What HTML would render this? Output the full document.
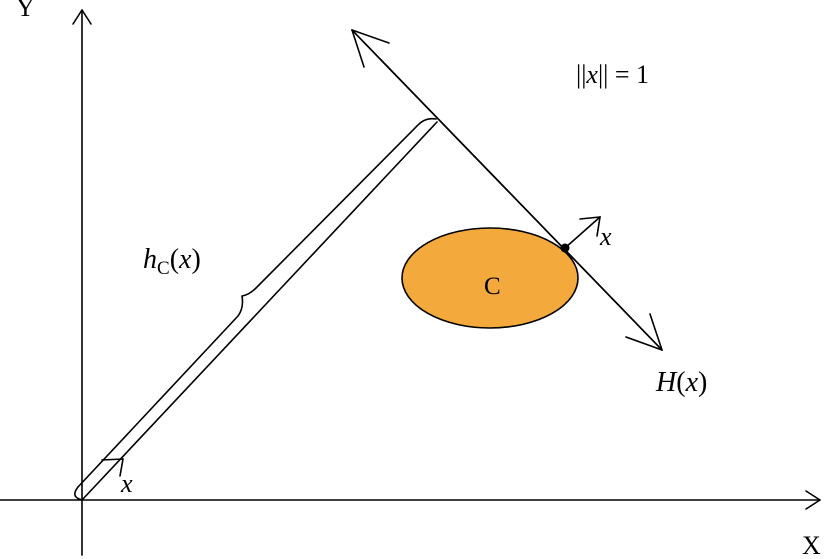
<!DOCTYPE html>
<html><head><meta charset="utf-8"><style>
body{margin:0;background:#fff}
svg{display:block}
text{font-family:"Liberation Serif",serif;fill:#000}
.i{font-style:italic}
</style></head><body>
<svg width="828" height="559" viewBox="0 0 828 559" xmlns="http://www.w3.org/2000/svg">
<g stroke="#000" stroke-width="1.6" fill="none" stroke-linecap="round" stroke-linejoin="round">
<line x1="82" y1="555" x2="82" y2="10"/>
<polyline points="73,24 82,10 91,24"/>
<line x1="0" y1="500" x2="820" y2="500"/>
<polyline points="806,491 820,500 806,509"/>
<line x1="352" y1="30" x2="662" y2="350"/>
<polyline points="389,43 352,30 364,67"/>
<polyline points="626,337 662,350 650,314"/>
<line x1="82" y1="500" x2="437" y2="122"/>
<path d="M78,487 L238,316 Q244,308 242,296 Q249,295 256,288 L417,126 Q425,117 436,119"/>
<path d="M78,487 Q70,497 82,500"/>
<line x1="102" y1="460" x2="123" y2="459"/>
<line x1="123" y1="459" x2="120" y2="476"/>
</g>
<ellipse cx="490" cy="278" rx="88" ry="50" fill="#f3a93c" stroke="#000" stroke-width="1.6"/>
<g stroke="#000" stroke-width="1.6" fill="none" stroke-linecap="round">
<line x1="352" y1="30" x2="662" y2="350"/>
<line x1="565" y1="248" x2="600" y2="217"/>
<polyline points="580,219 600,217 597,236"/>
</g>
<circle cx="565" cy="248" r="4.5" fill="#000"/>
<text x="484" y="294" font-size="25">C</text>
<text class="i" x="600" y="245" font-size="26">x</text>
<text class="i" x="121" y="492" font-size="26">x</text>
<text x="143" y="268" font-size="28"><tspan class="i">h</tspan><tspan font-size="19" dy="6">C</tspan><tspan dy="-6">(</tspan><tspan class="i">x</tspan>)</text>
<text x="656" y="391" font-size="28"><tspan class="i">H</tspan>(<tspan class="i">x</tspan>)</text>
<text x="576" y="83" font-size="26">||<tspan class="i">x</tspan>|| = 1</text>
<text x="16" y="16" font-size="26">Y</text>
<text x="802" y="554" font-size="26">X</text>
</svg>
</body></html>
